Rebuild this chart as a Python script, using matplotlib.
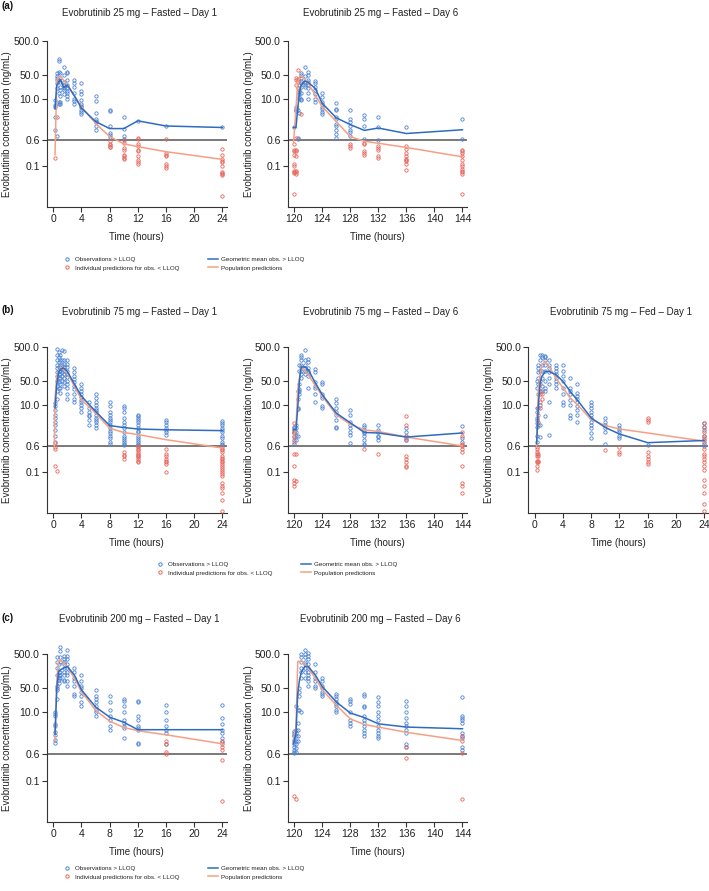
import matplotlib
matplotlib.use("Agg")
import matplotlib.pyplot as plt
from matplotlib.lines import Line2D

plt.rcParams['font.family'] = ['Liberation Sans', 'DejaVu Sans']

# ---------------- data ----------------
yticks = [0.1, 0.6, 10.0, 50.0, 500.0]
ytick_labels = ['0.1', '0.6', '10.0', '50.0', '500.0']
xticks_d1 = [0, 4, 8, 12, 16, 20, 24]
xticks_d6 = [120, 124, 128, 132, 136, 140, 144]
LLOQ = 0.6

titles = ['Evobrutinib 25 mg \u2013 Fasted \u2013 Day 1',
          'Evobrutinib 25 mg \u2013 Fasted \u2013 Day 6',
          'Evobrutinib 75 mg \u2013 Fasted \u2013 Day 1',
          'Evobrutinib 75 mg \u2013 Fasted \u2013 Day 6',
          'Evobrutinib 75 mg \u2013 Fed \u2013 Day 1',
          'Evobrutinib 200 mg \u2013 Fasted \u2013 Day 1',
          'Evobrutinib 200 mg \u2013 Fasted \u2013 Day 6']

# Panel a1: 25 mg fasted day 1
a1_obs = {0.25: [1.2, 2.8, 5.5, 6.5, 9], 0.5: [0.8, 20, 28, 36, 40, 45, 58],
          0.75: [150, 130, 60, 35, 15, 8, 7], 1: [55, 40, 30, 22, 18, 12, 8, 7],
          1.5: [85, 50, 30, 25, 22, 20, 18, 14], 2: [60, 55, 35, 25, 20, 17, 15, 12, 10],
          3: [35, 28, 22, 15, 10, 8.5, 7], 4: [28, 17, 14, 9, 7, 6, 5.5, 4.5, 4, 3.5],
          6: [12, 8.5, 3.8, 2.5, 2.2, 2, 1.5, 1.2], 8: [4.6, 4.3, 1.5, 0.94, 0.85, 0.75],
          10: [2.8, 1.3, 0.8, 0.65], 12: [2.2], 16: [1.6], 24: [1.4]}
a1_ind = {0.25: [0.18], 0.5: [2.9], 8: [0.55, 0.45, 0.42, 0.38, 0.36],
          10: [0.6, 0.48, 0.35, 0.3, 0.22, 0.2, 0.18, 0.16],
          12: [0.7, 0.62, 0.45, 0.4, 0.3, 0.28, 0.2, 0.15, 0.13, 0.12],
          16: [0.62, 0.25, 0.22, 0.2, 0.12, 0.1, 0.09],
          24: [0.32, 0.22, 0.16, 0.14, 0.13, 0.1, 0.07, 0.065, 0.06, 0.055, 0.013]}
a1_mean_t = [0.25, 0.5, 1, 1.5, 2, 3, 4, 6, 8, 10, 12, 16, 24]
a1_mean_c = [5, 25, 36, 21, 25, 12, 5.2, 2.1, 1.3, 1.3, 2.2, 1.55, 1.4]
a1_pred_t = [0.25, 0.5, 1, 2, 4, 6, 8, 10, 12, 16, 24]
a1_pred_c = [0.22, 35, 46, 25, 5.8, 1.85, 0.76, 0.46, 0.38, 0.27, 0.16]

# Panel a2: 25 mg fasted day 6
a2_obs = {119.9: [1.4], 120.25: [5.5, 5, 4.5, 4.2], 120.5: [4.5, 0.7, 0.65],
          120.75: [25, 18, 16, 14, 11, 10, 3.8], 121: [55, 50, 40, 32, 28, 22, 15, 10, 9],
          121.5: [85, 45, 30, 28, 25, 22], 122: [60, 50, 35, 30, 25, 20, 15, 10],
          123: [33, 28, 22, 18, 14, 10, 8], 124: [15, 11, 8, 7, 5.5, 5, 4, 3.5],
          126: [7.5, 5, 4.5, 2.8, 2.5, 1.8, 1.5, 1.2, 0.9, 0.7],
          128: [4.5, 2.5, 2, 1.5, 1.2, 1.0, 0.8], 130: [3.2, 2.5, 1.6, 0.65],
          132: [2.8, 1.4, 0.6], 136: [1.4], 144: [2.5, 0.65]}
a2_ind = {119.9: [0.45, 0.3, 0.28, 0.22, 0.12, 0.1, 0.075, 0.065, 0.07, 0.015],
          120.25: [40, 35, 25, 0.7, 0.3, 0.28, 0.2, 0.075, 0.07, 0.06],
          120.5: [70, 38, 34, 20], 121: [3.5],
          128: [0.45, 0.4, 0.35], 130: [0.5, 0.45, 0.28, 0.25, 0.22],
          132: [0.4, 0.35, 0.3, 0.2, 0.18],
          136: [0.4, 0.32, 0.25, 0.2, 0.17, 0.15, 0.14, 0.12, 0.08],
          144: [0.3, 0.28, 0.25, 0.2, 0.15, 0.12, 0.1, 0.085, 0.075, 0.07, 0.06, 0.015]}
a2_mean_t = [119.9, 120.25, 120.5, 120.75, 121, 121.5, 122, 123, 124, 126, 128, 130, 132, 136, 144]
a2_mean_c = [1.4, 1.4, 5, 15, 25, 33, 30, 20, 7.2, 2.7, 1.7, 1.15, 1.35, 0.93, 1.2]
a2_pred_t = [119.9, 120.25, 120.5, 120.75, 121, 122, 124, 126, 128, 130, 132, 136, 144]
a2_pred_c = [0.5, 5, 30, 45, 48, 28, 5.8, 2.1, 0.75, 0.55, 0.48, 0.36, 0.19]

# Panel b1: 75 mg fasted day 1
b1_obs = {0.25: [11, 9, 7, 5, 4, 3, 2.5, 1.8, 1.2, 0.8],
          0.5: [450, 300, 200, 150, 120, 90, 70, 50, 35, 25, 15],
          0.75: [350, 250, 180, 130, 100, 80, 60, 45, 30],
          1: [300, 200, 150, 120, 100, 80, 60, 40, 30, 22],
          1.25: [400, 200, 150, 110, 90, 70, 50],
          1.5: [380, 200, 160, 130, 100, 80, 60, 45, 35],
          2: [200, 160, 130, 100, 80, 65, 50, 40, 30, 20, 15],
          3: [120, 90, 70, 55, 45, 35, 28, 20, 15, 12],
          4: [40, 30, 25, 20, 17, 14, 12, 10, 8, 6],
          5: [12, 8, 6, 5, 4.5, 3.5, 2.5],
          6: [20, 16, 12, 10, 8, 7, 6, 5, 4, 3.5, 3, 2.5, 2],
          8: [12, 9, 6, 5, 4, 3.5, 3, 2.5, 2, 1.7, 1.4, 1.2, 1, 0.8, 0.7],
          10: [9, 8, 6, 4, 3, 2.5, 2, 1.5, 1.2, 1, 0.9, 0.8, 0.7, 0.65],
          12: [5, 4.5, 4, 3.5, 3, 2.5, 2, 1.7, 1.5, 1.2, 1, 0.9, 0.8, 0.7, 0.65],
          16: [3.5, 3, 2.5, 2, 1.8, 1.5, 1.3],
          24: [3.2, 2.8, 2.5, 2, 1.8, 1.5, 1.2, 1, 0.8, 0.7, 0.65]}
b1_ind = {0.25: [0.75, 0.55, 0.5, 0.15], 0.5: [0.11], 10: [0.4, 0.32, 0.3, 0.25],
          12: [0.6, 0.55, 0.5, 0.45, 0.4, 0.35, 0.32, 0.3, 0.28, 0.25, 0.22, 0.2],
          16: [0.5, 0.35, 0.3, 0.25, 0.22, 0.2, 0.18, 0.1],
          24: [0.55, 0.5, 0.45, 0.4, 0.3, 0.27, 0.25, 0.22, 0.2, 0.18, 0.15, 0.13, 0.12,
               0.1, 0.09, 0.08, 0.05, 0.04, 0.035, 0.025, 0.015, 0.007]}
b1_mean_t = [0.25, 0.5, 0.75, 1, 1.5, 2, 3, 4, 6, 8, 10, 12, 16, 24]
b1_mean_c = [8, 40, 90, 110, 120, 95, 40, 17.6, 6.3, 2.4, 2.1, 1.9, 1.8, 1.7]
b1_pred_t = [0.15, 0.25, 0.5, 1, 2, 4, 6, 8, 10, 12, 16, 24]
b1_pred_c = [0.6, 15, 70, 128, 85, 14, 5.6, 2.0, 1.5, 1.3, 0.92, 0.52]

# Panel b2: 75 mg fasted day 6
b2_obs = {119.9: [2.2, 2.0, 1.8, 1.6, 1.4, 1.2, 0.9, 0.7], 120.25: [2.5, 2, 1.5, 1.2, 0.9],
          120.5: [25, 15, 8, 7.5, 1.2], 120.75: [150, 100, 40, 28, 25, 20],
          121: [300, 250, 200, 150, 130, 100, 80, 60], 121.5: [400, 200, 150, 120, 100, 80],
          122: [220, 180, 120, 100, 90, 70, 30], 123: [110, 90, 45, 35, 30, 20, 12],
          124: [45, 40, 20, 18, 16, 9, 8], 126: [15, 11, 8, 6, 5, 3.5, 2.2, 2],
          128: [7, 5, 3, 2.5, 2, 1.6, 1.3, 0.75],
          130: [2.5, 2.2, 1.8, 1.6, 1.4, 1.2, 0.9, 0.7, 0.65],
          132: [2.5, 1.8, 1.5, 1.2, 1.1, 0.9], 136: [2.0, 1.5, 1.2, 1.0, 0.9],
          144: [2.3, 1.0, 0.8]}
b2_ind = {119.9: [2.8, 1.5, 1.1, 0.8, 0.35, 0.15, 0.06, 0.05, 0.04], 120.25: [0.35, 0.055],
          130: [0.5], 132: [0.35], 136: [4.5, 2.5, 1.2, 0.9, 0.3, 0.25, 0.2, 0.15, 0.14],
          144: [1.5, 1.2, 0.7, 0.65, 0.6, 0.5, 0.4, 0.15, 0.05, 0.04, 0.025]}
b2_mean_t = [119.9, 120.25, 120.5, 120.75, 121, 121.5, 122, 123, 124, 126, 128, 130, 132, 136, 144]
b2_mean_c = [1.8, 1.8, 7.9, 54, 129, 130, 107, 44, 19.6, 5.6, 2.9, 1.5, 1.45, 1.1, 1.45]
b2_pred_t = [119.9, 120.25, 120.5, 121, 122, 124, 126, 128, 130, 132, 136, 144]
b2_pred_c = [1.1, 2, 27, 135, 76, 17.6, 5, 2.6, 1.8, 1.6, 1.1, 0.6]

# Panel b3: 75 mg fed day 1
b3_obs = {0.25: [0.8, 1.2, 2.2, 2.8, 3.5, 4, 6, 8, 30, 50],
          0.5: [2.5, 8, 20, 40, 60, 90, 120, 150],
          0.75: [1.1, 2.5, 10, 25, 50, 100, 200, 300],
          1: [300, 250, 150, 100, 60, 35, 25],
          1.5: [280, 250, 200, 150, 100, 50, 30, 25, 4.5],
          2: [200, 150, 120, 90, 60, 40, 12, 1.3],
          3: [150, 120, 100, 80, 60, 50, 40, 30],
          4: [150, 100, 70, 50, 30, 20, 12, 10],
          5: [60, 30, 25, 20, 14, 10, 5, 4],
          6: [40, 22, 18, 15, 12, 9, 7, 5, 3],
          8: [12, 10, 8, 6, 5, 4, 3, 2.5, 2, 1.4, 1],
          10: [4, 3, 2.5, 2, 1.5, 0.7], 12: [2.5, 2, 1.8, 1.5, 1.2, 1], 16: [0.65],
          24: [2.8, 2.2, 1.8, 1.2, 0.9, 0.7, 0.6]}
b3_ind = {0.25: [0.55, 0.5, 0.4, 0.35, 0.3, 0.22, 0.2, 0.15, 0.12],
          0.5: [0.35, 0.3, 0.22, 0.2, 5, 3], 0.75: [40, 25, 20, 12, 8], 1: [20, 15],
          10: [0.45], 12: [0.55, 0.4, 0.35],
          16: [4, 3.5, 3, 0.4, 0.3, 0.25, 0.2, 0.18],
          24: [2.8, 2.2, 1.5, 1.2, 1, 0.8, 0.5, 0.35, 0.3, 0.25, 0.2, 0.15, 0.12, 0.06,
               0.04, 0.025, 0.012, 0.007]}
b3_mean_t = [0.25, 0.5, 0.75, 1, 1.5, 2, 3, 4, 5, 6, 8, 10, 12, 16, 24]
b3_mean_c = [0.7, 10, 45, 68, 95, 95, 76, 48, 24.5, 13.8, 4, 2.1, 1.35, 0.75, 0.87]
b3_pred_t = [0.25, 0.5, 1, 1.5, 2, 3, 4, 5, 6, 8, 10, 12, 16, 24]
b3_pred_c = [0.6, 30, 150, 188, 134, 60, 31, 15.7, 10, 3.6, 2.4, 1.9, 1.45, 0.83]

# Panel c1: 200 mg fasted day 1
c1_obs = {0.25: [10, 9, 8, 4.5, 4, 2.6, 2.2, 1.6, 1.3],
          0.5: [400, 300, 200, 120, 60, 50, 45, 25],
          0.75: [250, 150, 120, 100, 90, 70],
          1: [800, 600, 400, 300, 150, 120, 100],
          1.5: [450, 350, 300, 250, 200, 150, 120, 90, 80],
          2: [650, 450, 350, 250, 200, 150, 120, 80, 60],
          3: [200, 150, 100, 80, 60, 35, 30],
          4: [120, 80, 60, 50, 40, 30, 20, 15],
          6: [45, 30, 25, 20, 15, 12, 10, 8],
          8: [30, 20, 12, 8, 6, 4, 3],
          10: [25, 22, 15, 10, 6, 5, 4, 3.5, 1.8],
          12: [22, 20, 8, 6, 4, 3.5, 3, 1.3, 1.2],
          16: [16, 10, 6, 4, 3, 2.5, 1.2],
          24: [16, 7, 4.5, 3, 2.5, 1.8, 1.4]}
c1_ind = {16: [1.5, 1.2, 0.7, 0.6], 24: [1.5, 1.2, 1.0, 0.8, 0.4, 0.025]}
c1_mean_t = [0.25, 0.5, 0.75, 1, 1.5, 2, 3, 4, 6, 8, 10, 12, 16, 24]
c1_mean_c = [2.3, 50, 155, 173, 195, 215, 122, 45, 14.3, 7.2, 5.1, 3.1, 3.1, 3.1]
c1_pred_t = [0.25, 0.5, 0.75, 1, 2, 3, 4, 6, 8, 10, 12, 16, 24]
c1_pred_c = [1.5, 80, 300, 340, 215, 98, 40, 11.4, 5.5, 3.6, 2.9, 2.2, 1.2]

# Panel c2: 200 mg fasted day 6
c2_obs = {119.9: [2.8, 2.5, 2.2, 2, 1.6, 1.4, 1.2, 1.0, 0.8, 0.7, 0.65],
          120.25: [15, 3, 2.5, 2, 1.5, 1.2, 0.9, 0.7], 120.5: [12, 5, 3, 2, 1.5],
          120.75: [50, 40, 30, 12], 121: [500, 400, 300, 200, 150, 100, 10],
          121.5: [650, 500, 400, 300, 250, 200, 150, 100],
          122: [550, 450, 350, 250, 200, 150, 120, 100, 80, 60],
          123: [250, 150, 100, 80, 60, 50], 124: [100, 80, 60, 50, 40, 35, 30],
          126: [35, 30, 25, 20, 18, 15, 12, 10], 128: [25, 22, 18, 10, 6, 5, 4],
          130: [35, 30, 15, 14, 8, 6, 5, 4, 3, 2.5, 2],
          132: [28, 20, 15, 10, 8, 6, 4, 3, 2.5, 2, 1.8],
          136: [22, 15, 10, 7, 5, 4, 3, 2.5, 1.2, 1.0],
          144: [28, 8, 7, 6, 5, 2.5, 2, 1.8, 1.0, 0.8]}
c2_ind = {119.9: [0.035], 120.25: [0.03], 136: [1.0, 0.45], 144: [2.0, 1.5, 0.65, 0.03]}
c2_mean_t = [119.9, 120.25, 120.5, 120.75, 121, 121.5, 122, 123, 124, 126, 128, 130, 132, 136, 144]
c2_mean_c = [1.2, 2.5, 35, 87, 145, 215, 215, 122, 56, 20, 9.5, 7, 4.6, 3.7, 3.3]
c2_pred_t = [119.9, 120.25, 120.5, 121, 122, 123, 124, 126, 128, 130, 132, 136, 144]
c2_pred_c = [1.7, 3.5, 300, 316, 195, 98, 45, 16, 6.4, 4.4, 3.7, 2.6, 1.5]

# ---------------- style ----------------
OBS_COL = '#4f84d2'
IND_COL = '#e8655c'
MEAN_COL = '#2f6cc0'
PRED_COL = '#f5a084'
LLOQ_COL = '#555555'
AX_COL = '#333333'
MS = 2.4

W, H = 709, 891
fig = plt.figure(figsize=(W / 100, H / 100), dpi=100)


def ax_at(left, top, width, height):
    return fig.add_axes([left / W, 1 - (top + height) / H, width / W, height / H])


def flat(d):
    ts, cs = [], []
    for t, vals in d.items():
        ts += [t] * len(vals)
        cs += vals
    return ts, cs


def panel(ax, obs, ind, mt, mc, pt, pc, day6):
    ax.set_yscale('log')
    ax.set_ylim(0.0063, 500)
    if day6:
        ax.set_xlim(119.07, 144.6)
        ax.set_xticks(xticks_d6)
    else:
        ax.set_xlim(-0.93, 24.6)
        ax.set_xticks(xticks_d1)
    ax.axhline(LLOQ, color=LLOQ_COL, lw=1.1, zorder=2)
    ot, oc = flat(obs)
    it, ic = flat(ind)
    ax.plot(ot, oc, 'o', mfc='none', mec=OBS_COL, ms=MS, mew=0.6, ls='none',
            clip_on=False, zorder=3)
    ax.plot(it, ic, 'o', mfc='none', mec=IND_COL, ms=MS, mew=0.6, ls='none',
            clip_on=False, zorder=3)
    ax.plot(pt, pc, '-', color=PRED_COL, lw=1.1, zorder=4)
    ax.plot(mt, mc, '-', color=MEAN_COL, lw=1.1, zorder=5)
    ax.set_yticks(yticks)
    ax.set_yticklabels(ytick_labels)
    ax.minorticks_off()
    for s in ['top', 'right']:
        ax.spines[s].set_visible(False)
    for s in ['left', 'bottom']:
        ax.spines[s].set_color(AX_COL)
        ax.spines[s].set_linewidth(0.8)
    ax.tick_params(axis='both', length=3.5, width=0.8, color=AX_COL, pad=1.5,
                   labelsize=7.5, labelcolor='#222222')
    ax.set_ylabel('Evobrutinib concentration (ng/mL)', fontsize=7, color='#222222')
    ax.yaxis.set_label_coords(-0.19, 0.5)
    ax.set_xlabel('Time (hours)', fontsize=7, color='#222222')
    ax.xaxis.set_label_coords(0.5, -0.15)
    return ax


rows = {'a': (41, 166), 'b': (347, 166), 'c': (654, 168)}
cols = [(46.7, 180), (287.7, 179), (528.3, 180)]
title_y = {'a': 13, 'b': 312, 'c': 619}

specs = [
    ('a', 0, a1_obs, a1_ind, a1_mean_t, a1_mean_c, a1_pred_t, a1_pred_c, False, titles[0]),
    ('a', 1, a2_obs, a2_ind, a2_mean_t, a2_mean_c, a2_pred_t, a2_pred_c, True, titles[1]),
    ('b', 0, b1_obs, b1_ind, b1_mean_t, b1_mean_c, b1_pred_t, b1_pred_c, False, titles[2]),
    ('b', 1, b2_obs, b2_ind, b2_mean_t, b2_mean_c, b2_pred_t, b2_pred_c, True, titles[3]),
    ('b', 2, b3_obs, b3_ind, b3_mean_t, b3_mean_c, b3_pred_t, b3_pred_c, False, titles[4]),
    ('c', 0, c1_obs, c1_ind, c1_mean_t, c1_mean_c, c1_pred_t, c1_pred_c, False, titles[5]),
    ('c', 1, c2_obs, c2_ind, c2_mean_t, c2_mean_c, c2_pred_t, c2_pred_c, True, titles[6]),
]

for r, c, obs, ind, mt, mc, pt, pc, d6, ttl in specs:
    top, h = rows[r]
    left, w = cols[c]
    ax = ax_at(left, top, w, h)
    panel(ax, obs, ind, mt, mc, pt, pc, d6)
    fig.text((left + w / 2 + 3) / W, 1 - title_y[r] / H, ttl, ha='center', va='center',
             fontsize=7, color='#222222')

for lab, y in [('(a)', 6), ('(b)', 310), ('(c)', 618)]:
    fig.text(1 / W, 1 - y / H, lab, ha='left', va='center', fontsize=7,
             fontweight='bold', color='#111111')

handles = [Line2D([], [], marker='o', ls='none', mfc='none', mec=OBS_COL, ms=MS, mew=0.7),
           Line2D([], [], marker='o', ls='none', mfc='none', mec=IND_COL, ms=MS, mew=0.7),
           Line2D([], [], color=MEAN_COL, lw=1.1),
           Line2D([], [], color=PRED_COL, lw=1.1)]
labels = ['Observations > LLOQ', 'Individual predictions for obs. < LLOQ',
          'Geometric mean obs. > LLOQ', 'Population predictions']

for lx, ly in [(62, 257), (155, 562), (62, 866)]:
    fig.legend(handles, labels, ncol=2, loc='upper left',
               bbox_to_anchor=(lx / W, 1 - ly / H), frameon=False, fontsize=4.5,
               handlelength=1.6, handletextpad=0.5, columnspacing=4.5,
               labelspacing=0.45, borderpad=0, borderaxespad=0,
               labelcolor='#222222')

fig.savefig('out.png', dpi=100)
